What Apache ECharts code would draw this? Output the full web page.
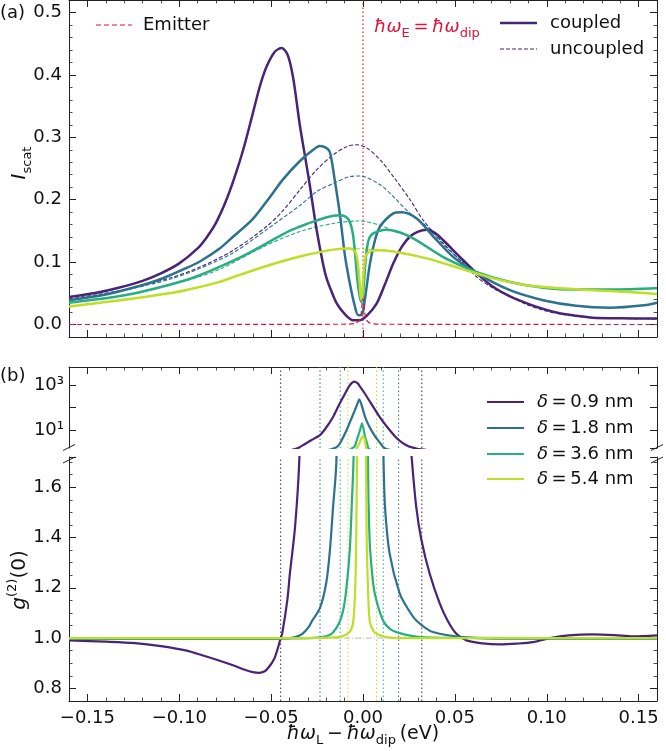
<!DOCTYPE html>
<html><head><meta charset="utf-8">
<script src="https://cdn.jsdelivr.net/npm/echarts@6/dist/echarts.min.js"></script>
<style>html,body{margin:0;padding:0;background:#fff}#c{width:666px;height:751px}</style>
</head><body><div id="c"></div>
<script>
// ---------- DATA ----------
const deltaLabels = ['0.9', '1.8', '3.6', '5.4'];

// (a) scattered intensity, coupled
const coupled09 = [[-0.16,0.044],[-0.145,0.051],[-0.133,0.059],[-0.12,0.070],[-0.11,0.082],[-0.10,0.098],[-0.09,0.122],[-0.085,0.140],[-0.08,0.163],[-0.075,0.195],[-0.07,0.235],[-0.065,0.282],[-0.06,0.338],[-0.056,0.383],[-0.0525,0.413],[-0.0480,0.437],[-0.0443,0.443],[-0.0410,0.432],[-0.0380,0.395],[-0.0343,0.318],[-0.0310,0.260],[-0.0289,0.222],[-0.0252,0.151],[-0.0216,0.095],[-0.0198,0.074],[-0.0170,0.052],[-0.0143,0.034],[-0.0100,0.017],[-0.0053,0.007],[-0.0020,0.007],[0.0020,0.014],[0.0075,0.034],[0.0120,0.065],[0.0165,0.098],[0.0210,0.124],[0.0256,0.141],[0.0300,0.149],[0.0347,0.152],[0.0390,0.147],[0.0437,0.135],[0.0528,0.108],[0.0619,0.082],[0.0710,0.060],[0.0800,0.045],[0.0892,0.034],[0.0980,0.025],[0.1070,0.018],[0.1160,0.014],[0.1250,0.011],[0.1400,0.010],[0.1600,0.0096]];
const coupled18 = [[-0.16,0.039],[-0.14,0.048],[-0.1238,0.060],[-0.11,0.073],[-0.0966,0.090],[-0.0888,0.101],[-0.0784,0.121],[-0.0706,0.141],[-0.0603,0.168],[-0.0525,0.197],[-0.0434,0.233],[-0.0343,0.262],[-0.0271,0.280],[-0.0235,0.286],[-0.0200,0.283],[-0.0180,0.276],[-0.0153,0.230],[-0.0125,0.175],[-0.0098,0.110],[-0.0071,0.065],[-0.0045,0.030],[-0.0026,0.015],[-0.0005,0.016],[0.0010,0.040],[0.0038,0.098],[0.0065,0.135],[0.0093,0.157],[0.0165,0.178],[0.0210,0.180],[0.0292,0.170],[0.0383,0.141],[0.0492,0.108],[0.0620,0.082],[0.0800,0.055],[0.0980,0.039],[0.1160,0.030],[0.1345,0.027],[0.1530,0.031],[0.1600,0.035]];
const coupled36 = [[-0.16,0.035],[-0.14,0.042],[-0.124,0.050],[-0.11,0.060],[-0.0966,0.071],[-0.0888,0.079],[-0.0784,0.092],[-0.067,0.107],[-0.0525,0.130],[-0.0400,0.150],[-0.0307,0.161],[-0.0198,0.172],[-0.0125,0.175],[-0.0090,0.172],[-0.0070,0.163],[-0.0055,0.145],[-0.0042,0.110],[-0.0030,0.070],[-0.0018,0.045],[-0.0008,0.036],[0.0003,0.060],[0.0015,0.105],[0.0030,0.135],[0.0056,0.146],[0.0129,0.152],[0.0256,0.141],[0.0437,0.108],[0.0620,0.084],[0.0800,0.068],[0.0980,0.059],[0.1160,0.056],[0.1350,0.056],[0.1600,0.058]];
const coupled54 = [[-0.16,0.029],[-0.14,0.036],[-0.124,0.042],[-0.11,0.048],[-0.0966,0.055],[-0.0784,0.068],[-0.0706,0.076],[-0.0512,0.095],[-0.0343,0.109],[-0.0162,0.120],[-0.0071,0.122],[-0.0040,0.115],[-0.0027,0.095],[-0.0018,0.065],[-0.0010,0.040],[-0.0004,0.048],[0.0004,0.085],[0.0015,0.110],[0.0038,0.117],[0.0075,0.119],[0.0165,0.117],[0.0347,0.106],[0.0528,0.090],[0.0710,0.074],[0.0890,0.063],[0.1070,0.058],[0.1250,0.055],[0.1440,0.052],[0.1600,0.049]];

// (a) scattered intensity, uncoupled
const uncoupled09 = [[-0.16,0.041],[-0.133,0.054],[-0.1057,0.074],[-0.0888,0.092],[-0.0706,0.119],[-0.0525,0.157],[-0.0434,0.183],[-0.0343,0.216],[-0.0252,0.248],[-0.0162,0.272],[-0.0089,0.285],[-0.0034,0.288],[0.0020,0.283],[0.0093,0.264],[0.0165,0.237],[0.0256,0.200],[0.0328,0.167],[0.0437,0.130],[0.0528,0.103],[0.0620,0.076],[0.0710,0.058],[0.0800,0.045],[0.0892,0.032],[0.0980,0.023],[0.1070,0.017],[0.1250,0.011],[0.1600,0.009]];
const uncoupled18 = [[-0.16,0.040],[-0.133,0.053],[-0.1057,0.072],[-0.0888,0.090],[-0.0706,0.115],[-0.0525,0.152],[-0.0343,0.191],[-0.0252,0.213],[-0.0162,0.226],[-0.0071,0.237],[-0.0016,0.238],[0.0093,0.224],[0.0165,0.205],[0.0256,0.178],[0.0347,0.157],[0.0437,0.128],[0.0528,0.104],[0.0620,0.083],[0.0800,0.055],[0.0980,0.039],[0.1160,0.030],[0.1350,0.027],[0.1600,0.034]];
const uncoupled36 = [[-0.16,0.035],[-0.124,0.050],[-0.0966,0.070],[-0.0784,0.088],[-0.0525,0.127],[-0.0343,0.149],[-0.0162,0.162],[-0.0016,0.166],[0.0093,0.159],[0.0165,0.150],[0.0256,0.140],[0.0437,0.108],[0.0620,0.084],[0.0800,0.068],[0.0980,0.059],[0.1160,0.056],[0.1350,0.056],[0.1600,0.058]];
const uncoupled54 = [[-0.16,0.029],[-0.124,0.042],[-0.0966,0.055],[-0.0784,0.068],[-0.0512,0.095],[-0.0343,0.109],[-0.0162,0.120],[-0.0071,0.122],[0.0000,0.121],[0.0075,0.119],[0.0165,0.117],[0.0347,0.106],[0.0528,0.090],[0.0710,0.074],[0.0890,0.063],[0.1070,0.058],[0.1250,0.055],[0.1440,0.052],[0.1600,0.049]];

// (a) emitter spectrum and emitter energy
const emitter = [[-0.16,0],[-0.008,0.0005],[-0.004,0.002],[-0.002,0.007],[-0.001,0.018],[-0.0004,0.035],[0,0.042],[0.0004,0.035],[0.001,0.018],[0.002,0.007],[0.004,0.002],[0.008,0.0005],[0.16,0]];
const emitterEnergy = 0.0;

// (b) g2(0)
const g2_09 = [[-0.16,0.991],[-0.14,0.986],[-0.124,0.980],[-0.11,0.968],[-0.0966,0.951],[-0.0875,0.932],[-0.0784,0.911],[-0.070,0.890],[-0.0639,0.873],[-0.0600,0.865],[-0.0566,0.862],[-0.0535,0.868],[-0.0512,0.885],[-0.0485,0.915],[-0.0467,0.951],[-0.0448,1.0],[-0.0440,1.017],[-0.0412,1.15],[-0.0398,1.256],[-0.0370,1.44],[-0.0347,1.70],[-0.0320,2.3],[-0.0280,3.6],[-0.0234,6],[-0.0200,13],[-0.0162,39],[-0.0135,110],[-0.0107,300],[-0.0085,650],[-0.0071,1000],[-0.0049,1400],[-0.0030,1200],[-0.0016,850],[0.0010,420],[0.0038,180],[0.0075,60],[0.0110,23],[0.0147,9.5],[0.0184,4.3],[0.0215,2.7],[0.0247,1.9],[0.0267,1.70],[0.0290,1.52],[0.0318,1.39],[0.0363,1.256],[0.0418,1.137],[0.0460,1.07],[0.0508,1.017],[0.0563,0.991],[0.0650,0.979],[0.0745,0.975],[0.0835,0.978],[0.0926,0.984],[0.1017,1.0],[0.1120,1.011],[0.1250,1.015],[0.1370,1.012],[0.1470,1.007],[0.1600,1.011]];
const g2_18 = [[-0.16,0.998],[-0.10,0.997],[-0.05,0.997],[-0.040,1.0],[-0.036,1.006],[-0.033,1.017],[-0.0295,1.045],[-0.0276,1.07],[-0.0234,1.12],[-0.0200,1.22],[-0.0180,1.35],[-0.0163,1.52],[-0.0145,1.70],[-0.0125,2.6],[-0.0089,10],[-0.0065,30],[-0.0044,77],[-0.0030,150],[-0.0020,230],[-0.0005,110],[0.0011,39],[0.0035,14],[0.0056,7],[0.0085,3.2],[0.0105,2.0],[0.0112,1.70],[0.0120,1.52],[0.0145,1.336],[0.0200,1.177],[0.0250,1.11],[0.0290,1.07],[0.0380,1.024],[0.0563,1.003],[0.0800,0.998],[0.1600,0.998]];
const g2_36 = [[-0.16,0.999],[-0.05,0.999],[-0.030,1.0],[-0.0225,1.004],[-0.0185,1.011],[-0.0160,1.025],[-0.0130,1.06],[-0.0108,1.11],[-0.0090,1.20],[-0.0072,1.35],[-0.0060,1.55],[-0.0052,1.70],[-0.0044,2.0],[-0.0030,4.5],[-0.0016,10],[-0.0005,20],[0.0011,5],[0.0022,2.6],[0.0027,1.70],[0.0036,1.39],[0.0048,1.27],[0.0064,1.177],[0.0109,1.07],[0.0150,1.035],[0.0200,1.02],[0.0300,1.005],[0.0500,1.001],[0.1600,1.0]];
const g2_54 = [[-0.16,1.0],[-0.030,1.0],[-0.015,1.003],[-0.0113,1.007],[-0.0080,1.02],[-0.0067,1.03],[-0.0054,1.06],[-0.0045,1.15],[-0.0040,1.26],[-0.0036,1.45],[-0.0033,1.70],[-0.0020,2.6],[-0.0008,4.3],[0.0002,5.4],[0.0010,3.6],[0.0014,2.3],[0.0017,1.70],[0.0020,1.40],[0.0025,1.25],[0.0036,1.07],[0.0055,1.03],[0.0073,1.017],[0.0120,1.005],[0.0200,1.0],[0.1600,1.0]];

// (b) dotted markers (left, right) for each delta
const markerX = [[-0.0448, 0.0320], [-0.0234, 0.0194], [-0.0124, 0.0110], [-0.0082, 0.0074]];
const g2Reference = 1.0;

// ---------- STYLE ----------
const FONT = 'DejaVu Sans';
const COLORS = ['#482475', '#2c728e', '#28ae80', '#bddf26'];
const RED = '#dc143c';
const AX = '#222';
const X_MIN = -0.16, X_MAX = 0.16;
const A_MIN = -0.02, A_MAX = 0.52;
const L_MIN = 1.6, L_MAX = 6300;
const B_MIN = 0.75, B_MAX = 1.72;

const fmtX = v => (v < -1e-9 ? '\u2212' : '') + Math.abs(v).toFixed(2);
const fmtY1 = v => (v < -1e-9 ? '\u2212' : '') + Math.abs(v).toFixed(1);

function xAx(gridIndex, position, showLabel) {
  return {
    type: 'value', gridIndex, position, min: X_MIN, max: X_MAX, splitNumber: 5,
    axisLine: {show: true, onZero: false, lineStyle: {color: AX, width: 1}},
    axisTick: {show: true, inside: true, length: 7, lineStyle: {color: AX, width: 1}},
    minorTick: {show: true, splitNumber: 5, length: 3.5, lineStyle: {color: AX, width: 0.8}},
    splitLine: {show: false},
    axisLabel: {show: showLabel, showMinLabel: false, showMaxLabel: false, color: '#111',
      fontSize: 18, fontFamily: FONT, margin: 8, formatter: fmtX}
  };
}
function yAx(gridIndex, position, min, max, showLabel, minorSplit, fmt) {
  return {
    type: 'value', gridIndex, position, min, max, splitNumber: 5,
    axisLine: {show: true, onZero: false, lineStyle: {color: AX, width: 1}},
    axisTick: {show: true, inside: true, length: 7, lineStyle: {color: AX, width: 1}},
    minorTick: {show: true, splitNumber: minorSplit, length: 3.5, lineStyle: {color: AX, width: 0.8}},
    splitLine: {show: false},
    axisLabel: {show: showLabel, showMinLabel: false, showMaxLabel: false, color: '#111',
      fontSize: 18, fontFamily: FONT, margin: 7, formatter: fmt}
  };
}
function logAx(position, showLabel) {
  return {
    type: 'log', logBase: 10, gridIndex: 1, position, min: L_MIN, max: L_MAX,
    axisLine: {show: true, onZero: false, lineStyle: {color: AX, width: 1}},
    axisTick: {show: true, inside: true, length: 7, lineStyle: {color: AX, width: 1}},
    minorTick: {show: false},
    splitLine: {show: false},
    axisLabel: {show: showLabel, showMinLabel: false, showMaxLabel: false, color: '#111',
      fontSize: 18, fontFamily: FONT, margin: 5,
      formatter: v => { const e = Math.round(Math.log10(v)); if (Math.abs(Math.log10(v) - e) > 1e-6) return ''; return e === 1 ? '10\u00b9' : (e === 3 ? '10\u00b3' : ''); }}
  };
}

function ln(data, xi, yi, color, width, type, z, smooth) {
  return {
    type: 'line', data, xAxisIndex: xi, yAxisIndex: yi, showSymbol: false, symbol: 'none',
    clip: true, animation: false, z: z || 2, silent: true,
    smooth: smooth || false,
    lineStyle: {color, width, type: type || 'solid', cap: 'butt', join: 'round'}
  };
}

const series = [];
// panel (a)
series.push(ln([[emitterEnergy, A_MIN], [emitterEnergy, A_MAX]], 0, 0, RED, 1.1, [1.5, 2.5], 1));
[uncoupled09, uncoupled18, uncoupled36, uncoupled54].forEach((d, i) =>
  series.push(ln(d, 0, 0, COLORS[i], 1.1, [4, 2], 2, 0.3)));
[coupled09, coupled18, coupled36, coupled54].forEach((d, i) =>
  series.push(ln(d, 0, 0, COLORS[i], 2.5, 'solid', 3, 0.3)));
series.push(ln(emitter, 0, 0, RED, 1.2, [5, 3], 4, 0.2));

// panel (b) markers
markerX.forEach((pair, i) => pair.forEach(x => {
  series.push(ln([[x, L_MIN], [x, L_MAX]], 2, 2, COLORS[i], 1, [1.5, 2.5], 1));
  series.push(ln([[x, B_MIN], [x, B_MAX]], 3, 4, COLORS[i], 1, [1.5, 2.5], 1));
}));
series.push(ln([[X_MIN, g2Reference], [X_MAX, g2Reference]], 3, 4, '#bbbbbb', 1, [6, 2, 1, 2], 1));
[g2_09, g2_18, g2_36, g2_54].forEach((d, i) => {
  series.push(ln(d, 2, 2, COLORS[i], 2.2, 'solid', 3, 0.2));
  series.push(ln(d, 3, 4, COLORS[i], 2.2, 'solid', 3, 0.3));
});

// ---------- DECORATION (legends, labels, break marks) ----------
const T = (x, y, text, rich, extra) => ({
  type: 'text', x, y, silent: true, z: 100,
  style: Object.assign({text, rich, fontFamily: FONT, fontSize: 18, fill: '#111', verticalAlign: 'middle', align: 'left'}, extra || {})
});
const L = (x1, y1, x2, y2, stroke, lineWidth, lineDash) => ({
  type: 'line', silent: true, z: 100, shape: {x1, y1, x2, y2}, style: {stroke, lineWidth, lineDash: lineDash || null}
});

const sub = {fontSize: 13, fontFamily: FONT, verticalAlign: 'bottom', lineHeight: 13};
const graphic = [
  T(0, 13, '(a)'), T(0, 376, '(b)'),
  L(96, 25, 132, 25, RED, 1.2, [5, 3]), T(143, 25, 'Emitter'),
  L(500, 23, 537, 23, COLORS[0], 2.5), T(550, 23, 'coupled'),
  L(500, 49, 537, 49, COLORS[0], 1.1, [4, 2]), T(550, 49, 'uncoupled'),
  T(374, 27, '{m|\u0127\u03c9}{s|E}{n|\u2009=\u2009}{m|\u0127\u03c9}{s|dip}', {
    m: {fontSize: 18, fontStyle: 'italic', fill: RED, fontFamily: FONT, lineHeight: 26},
    n: {fontSize: 18, fill: RED, fontFamily: FONT, lineHeight: 26},
    s: Object.assign({}, sub, {fill: RED})
  }),
  Object.assign(T(20, 163, '{i|I}{s|scat}', {
    i: {fontSize: 20, fontStyle: 'italic', fontFamily: FONT, lineHeight: 28, fill: '#111'},
    s: Object.assign({}, sub, {fill: '#111'})
  }, {align: 'center'}), {rotation: Math.PI / 2}),
  Object.assign(T(20, 580, '{g|g}{p|(2)}{n|(0)}', {
    g: {fontSize: 20, fontStyle: 'italic', fontFamily: FONT, lineHeight: 28, fill: '#111'},
    p: {fontSize: 13, fontFamily: FONT, verticalAlign: 'top', lineHeight: 13, fill: '#111'},
    n: {fontSize: 20, fontFamily: FONT, lineHeight: 28, fill: '#111'}
  }, {align: 'center'}), {rotation: Math.PI / 2}),
  T(363, 734, '{m|\u0127\u03c9}{s|L}{n|\u2009\u2212\u2009}{m|\u0127\u03c9}{s|dip}{n|\u2009(eV)}', {
    m: {fontSize: 19, fontStyle: 'italic', fontFamily: FONT, lineHeight: 26, fill: '#111'},
    n: {fontSize: 19, fontFamily: FONT, lineHeight: 26, fill: '#111'},
    s: Object.assign({}, sub, {fill: '#111'})
  }, {align: 'center'}),
  L(63, 450.5, 75, 444.5, AX, 1), L(63, 463, 75, 457, AX, 1),
  L(651, 450.5, 663, 444.5, AX, 1), L(651, 463, 663, 457, AX, 1)
];
const legY = [402, 428, 454, 479];
deltaLabels.forEach((d, i) => {
  graphic.push(L(487, legY[i], 524, legY[i], COLORS[i], 2.2));
  graphic.push(T(537, legY[i], '{d|\u03b4}{n|\u2009=\u2009' + d + ' nm}', {
    d: {fontSize: 18, fontStyle: 'italic', fontFamily: FONT, fill: '#111'},
    n: {fontSize: 18, fontFamily: FONT, fill: '#111'}
  }));
});

const option = {
  backgroundColor: '#fff',
  animation: false,
  textStyle: {fontFamily: FONT},
  grid: [
    {left: 69, top: 0, width: 588, height: 337, containLabel: false},
    {left: 69, top: 367, width: 588, height: 81, containLabel: false},
    {left: 69, top: 457, width: 588, height: 244, containLabel: false}
  ],
  xAxis: [xAx(0, 'bottom', false), xAx(0, 'top', false), xAx(1, 'top', false), xAx(2, 'bottom', true)],
  yAxis: [
    yAx(0, 'left', A_MIN, A_MAX, true, 5, fmtY1), yAx(0, 'right', A_MIN, A_MAX, false, 5, fmtY1),
    logAx('left', true), logAx('right', false),
    yAx(2, 'left', B_MIN, B_MAX, true, 4, fmtY1), yAx(2, 'right', B_MIN, B_MAX, false, 4, fmtY1)
  ],
  series,
  graphic
};
const chart = echarts.init(document.getElementById('c'), null, {renderer: 'canvas'});
chart.setOption(option);
</script></body></html>
